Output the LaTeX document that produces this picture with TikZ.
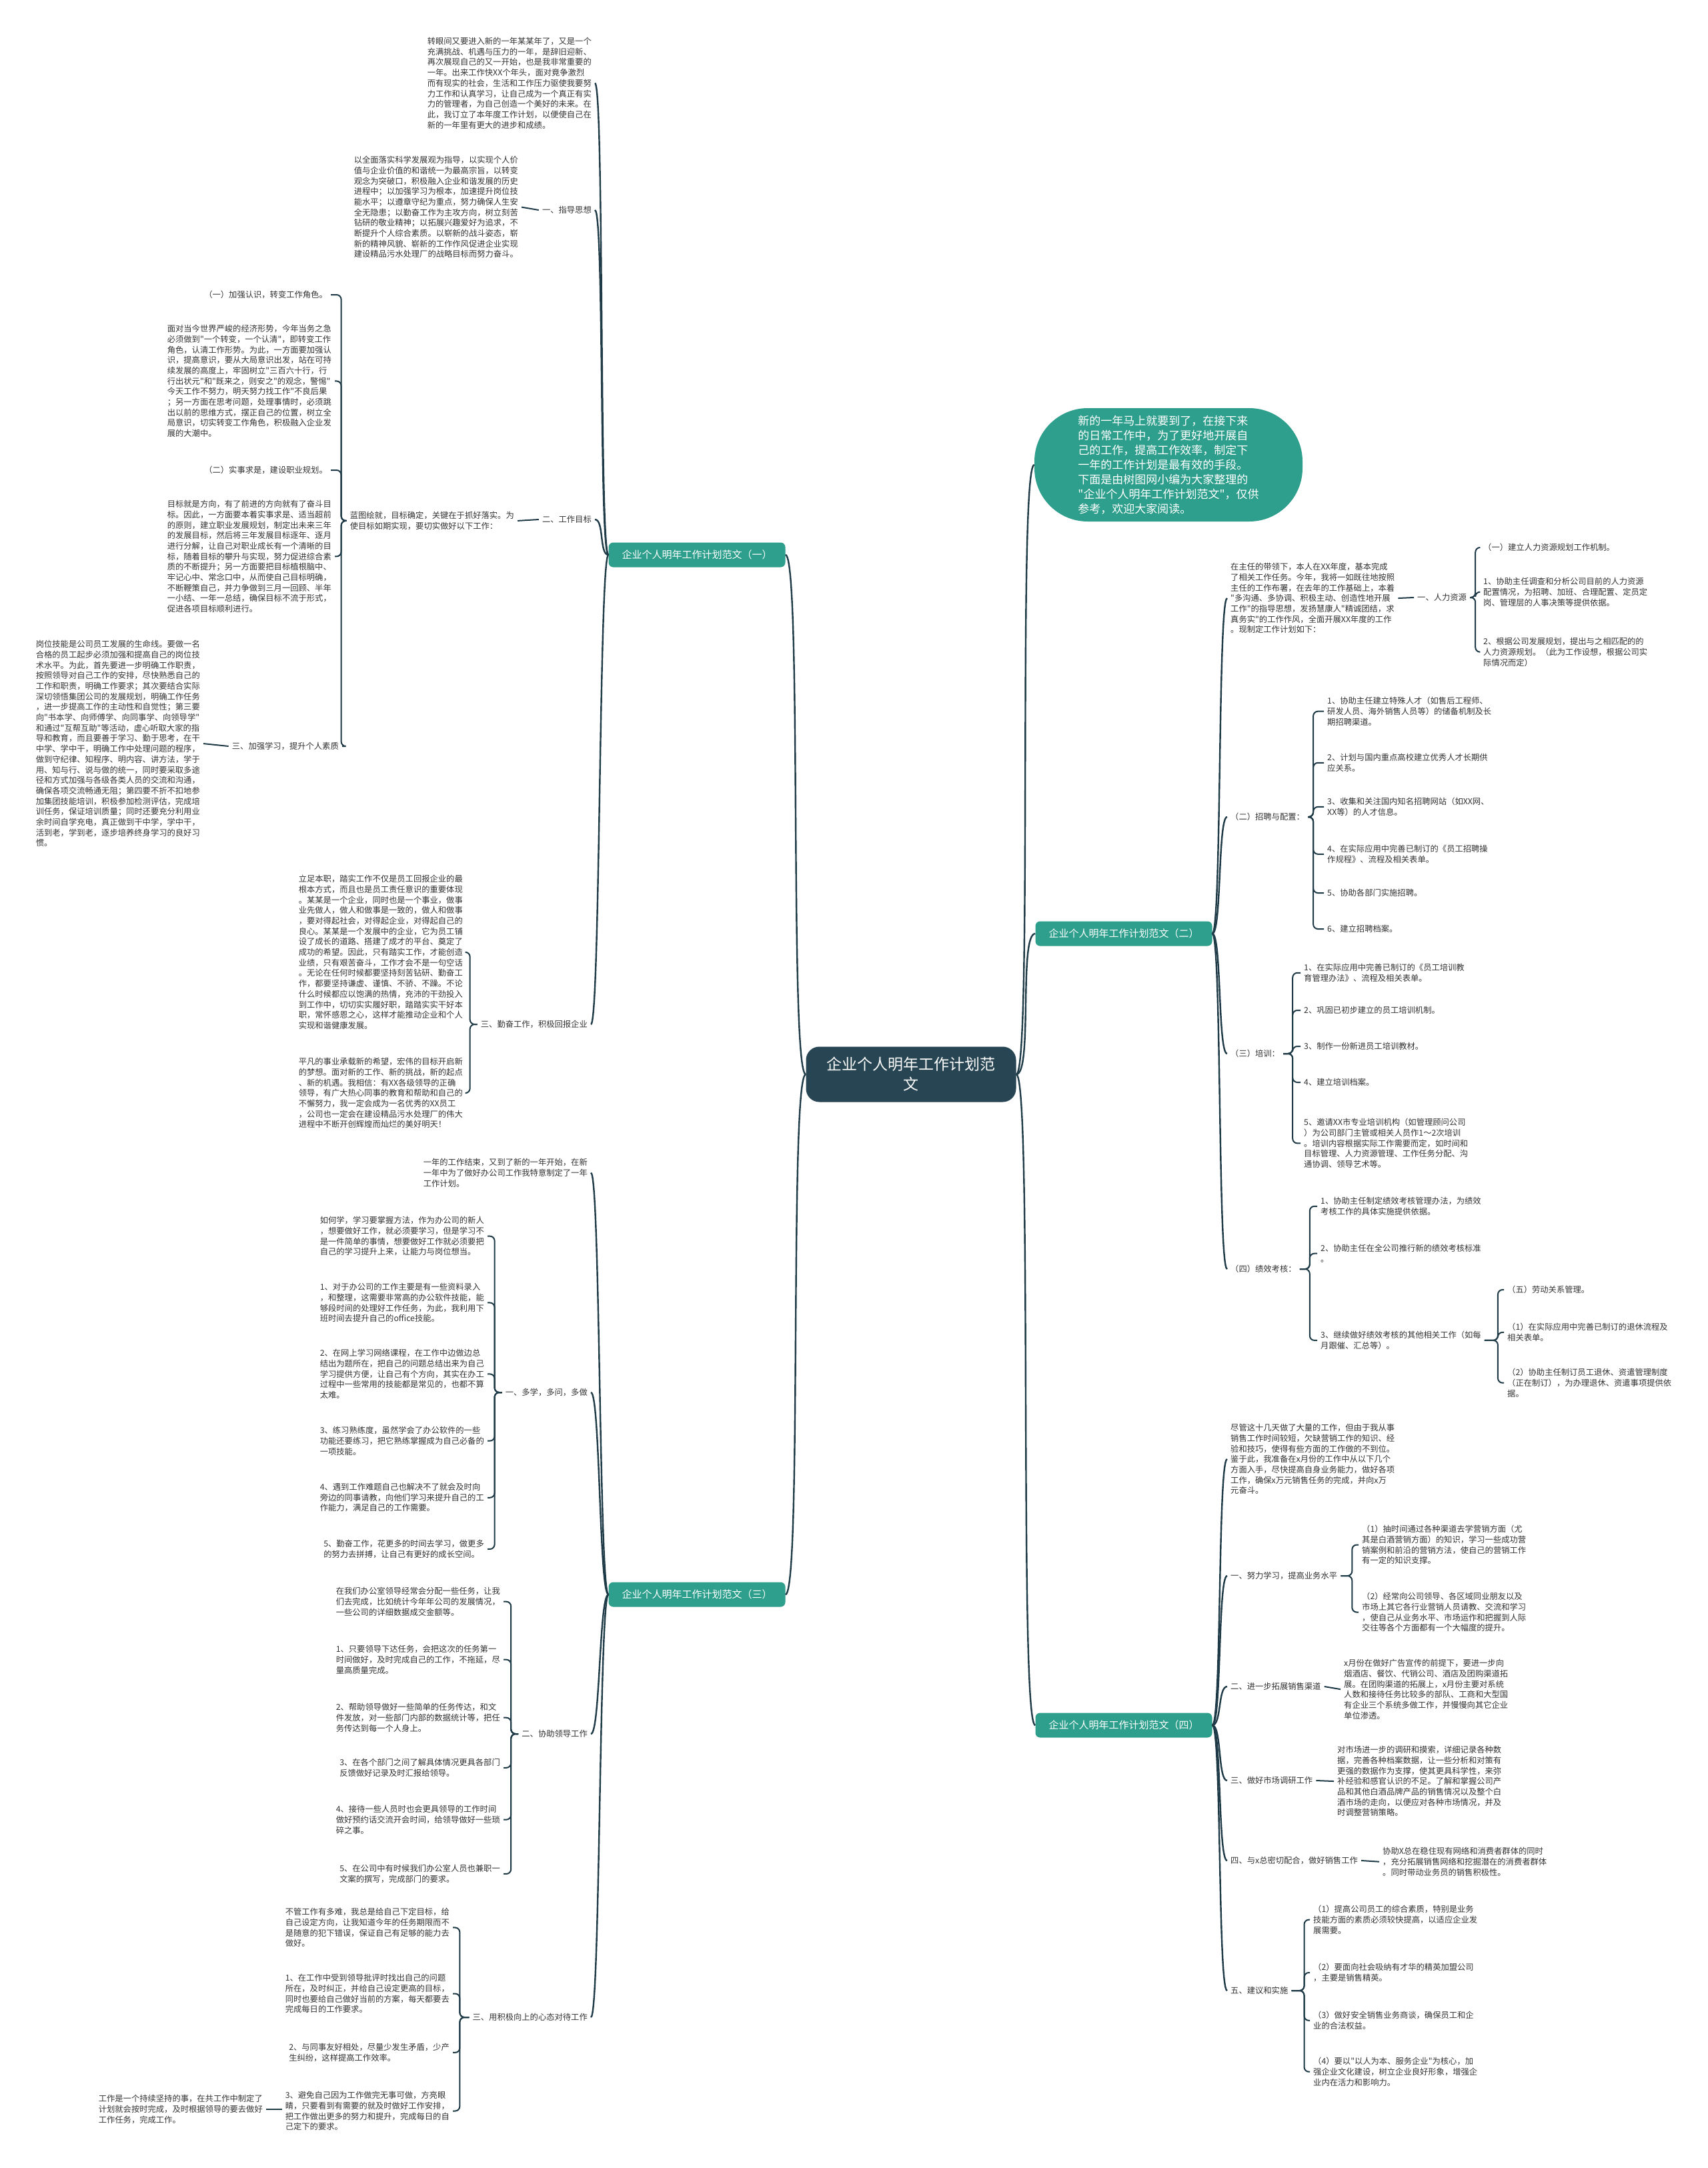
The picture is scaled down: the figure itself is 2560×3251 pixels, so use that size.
\documentclass[tikz,border=0pt]{standalone}
\usepackage{fontspec}
\setmainfont{Noto Sans CJK SC}[Ligatures=TeXOff]
\definecolor{rootfill}{HTML}{274552}
\definecolor{tealfill}{HTML}{2E9F8C}
\definecolor{linkcol}{HTML}{1F3B47}
\definecolor{txtcol}{HTML}{333333}
\begin{document}
\begin{tikzpicture}[x=1pt,y=-1pt,
  txt/.style={font=\fontsize{12.3}{15.7}\selectfont,text=txtcol,align=left,inner xsep=5pt,inner ysep=0pt},
  branch/.style={fill=tealfill,text=white,rounded corners=7pt,minimum width=265pt,minimum height=37pt,inner sep=0pt,font=\fontsize{15}{18}\selectfont},
  rootbox/.style={fill=rootfill,text=white,rounded corners=20pt,minimum width=315pt,minimum height=83pt,align=center,font=\fontsize{23}{30}\selectfont},
  newsbox/.style={fill=tealfill,text=white,rounded corners=80pt,minimum width=402pt,minimum height=170pt,align=left,font=\fontsize{17}{22}\selectfont},
  link/.style={draw=linkcol,line width=2pt,rounded corners=7pt},
  curve/.style={draw=linkcol,line width=2.4pt}]
\fill[white] (0,0) rectangle (2560,3251);
\useasboundingbox (0,0) rectangle (2560,3251);

\node[rootbox] (root) at (1366,1611) {企业个人明年工作计划范\\文};
\node[newsbox] (news) at (1752,697) {新的一年马上就要到了，在接下来\\的日常工作中，为了更好地开展自\\己的工作，提高工作效率，制定下\\一年的工作计划是最有效的手段。\\下面是由树图网小编为大家整理的\\"企业个人明年工作计划范文"，仅供\\参考，欢迎大家阅读。};
\node[branch] (B1) at (1045,832) {企业个人明年工作计划范文（一）};
\node[branch] (B2) at (1685,1400) {企业个人明年工作计划范文（二）};
\node[branch] (B3) at (1045,2391) {企业个人明年工作计划范文（三）};
\node[branch] (B4) at (1685,2587) {企业个人明年工作计划范文（四）};

\node[txt,anchor=north east] (intro) at (892,56) {转眼间又要进入新的一年某某年了，又是一个\\充满挑战、机遇与压力的一年，是辞旧迎新、\\再次展现自己的又一开始，也是我非常重要的\\一年。出来工作快XX个年头，面对竟争激烈\\而有现实的社会，生活和工作压力驱使我要努\\力工作和认真学习，让自己成为一个真正有实\\力的管理者，为自己创造一个美好的未来。在\\此，我订立了本年度工作计划，以便使自己在\\新的一年里有更大的进步和成绩。};
\node[txt,anchor=north east] (guide) at (782,234) {以全面落实科学发展观为指导，以实现个人价\\值与企业价值的和谐统一为最高宗旨，以转变\\观念为突破口，积极融入企业和谐发展的历史\\进程中；以加强学习为根本，加速提升岗位技\\能水平；以遵章守纪为重点，努力确保人生安\\全无隐患；以勤奋工作为主攻方向，树立刻苦\\钻研的敬业精神；以拓展兴趣爱好为追求，不\\断提升个人综合素质。以崭新的战斗姿态，崭\\新的精神风貌、崭新的工作作风促进企业实现\\建设精品污水处理厂的战略目标而努力奋斗。};
\node[txt,anchor=east] (guideL) at (892,315) {一、指导思想};
\node[txt,anchor=east] (roleL) at (496,442) {（一）加强认识，转变工作角色。};
\node[txt,anchor=north east] (role) at (502,487) {面对当今世界严峻的经济形势，今年当务之急\\必须做到"一个转变，一个认清"，即转变工作\\角色，认清工作形势。为此，一方面要加强认\\识，提高意识，要从大局意识出发，站在可持\\续发展的高度上，牢固树立"三百六十行，行\\行出状元"和"既来之，则安之"的观念，警惕"\\今天工作不努力，明天努力找工作"不良后果\\；另一方面在思考问题，处理事情时，必须跳\\出以前的思维方式，摆正自己的位置，树立全\\局意识，切实转变工作角色，积极融入企业发\\展的大潮中。};
\node[txt,anchor=east] (planL) at (496,705) {（二）实事求是，建设职业规划。};
\node[txt,anchor=north east] (plan) at (502,750) {目标就是方向，有了前进的方向就有了奋斗目\\标。因此，一方面要本着实事求是、适当超前\\的原则，建立职业发展规划，制定出未来三年\\的发展目标，然后将三年发展目标逐年、逐月\\进行分解，让自己对职业成长有一个清晰的目\\标，随着目标的攀升与实现，努力促进综合素\\质的不断提升；另一方面要把目标植根脑中、\\牢记心中、常念口中，从而使自己目标明确，\\不断鞭策自己，并力争做到三月一回顾、半年\\一小结、一年一总结，确保目标不流于形式，\\促进各项目标顺利进行。};
\node[txt,anchor=north east] (blue) at (776,767) {蓝图绘就，目标确定，关键在于抓好落实。为\\使目标如期实现，要切实做好以下工作：};
\node[txt,anchor=east] (goalL) at (892,779) {二、工作目标};
\node[txt,anchor=north east] (skill) at (305,960) {岗位技能是公司员工发展的生命线。要做一名\\合格的员工起步必须加强和提高自己的岗位技\\术水平。为此，首先要进一步明确工作职责，\\按照领导对自己工作的安排，尽快熟悉自己的\\工作和职责，明确工作要求；其次要结合实际\\深切领悟集团公司的发展规划，明确工作任务\\，进一步提高工作的主动性和自觉性；第三要\\向"书本学、向师傅学、向同事学、向领导学"\\和通过"互帮互助"等活动，虚心听取大家的指\\导和教育，而且要善于学习、勤于思考，在干\\中学、学中干，明确工作中处理问题的程序，\\做到守纪律、知程序、明内容、讲方法，学于\\用、知与行、说与做的统一，同时要采取多途\\径和方式加强与各级各类人员的交流和沟通，\\确保各项交流畅通无阻；第四要不折不扣地参\\加集团技能培训，积极参加检测评估，完成培\\训任务，保证培训质量；同时还要充分利用业\\余时间自学充电，真正做到干中学，学中干，\\活到老，学到老，逐步培养终身学习的良好习\\惯。};
\node[txt,anchor=east] (studyL) at (513,1119) {三、加强学习，提升个人素质};
\node[txt,anchor=north east] (duty) at (699,1312) {立足本职，踏实工作不仅是员工回报企业的最\\根本方式，而且也是员工责任意识的重要体现\\。某某是一个企业，同时也是一个事业，做事\\业先做人，做人和做事是一致的，做人和做事\\，要对得起社会，对得起企业，对得起自己的\\良心。某某是一个发展中的企业，它为员工铺\\设了成长的道路、搭建了成才的平台、奠定了\\成功的希望。因此，只有踏实工作，才能创造\\业绩，只有艰苦奋斗，工作才会不是一句空话\\。无论在任何时候都要坚持刻苦钻研、勤奋工\\作，都要坚持谦虚、谨慎、不骄、不躁。不论\\什么时候都应以饱满的热情，充沛的干劲投入\\到工作中，切切实实履好职，踏踏实实干好本\\职，常怀感恩之心，这样才能推动企业和个人\\实现和谐健康发展。};
\node[txt,anchor=north east] (hope) at (699,1586) {平凡的事业承载新的希望，宏伟的目标开启新\\的梦想。面对新的工作、新的挑战，新的起点\\、新的机遇。我相信：有XX各级领导的正确\\领导，有广大热心同事的教育和帮助和自己的\\不懈努力，我一定会成为一名优秀的XX员工\\，公司也一定会在建设精品污水处理厂的伟大\\进程中不断开创辉煌而灿烂的美好明天！};
\node[txt,anchor=east] (workL) at (886,1536) {三、勤奋工作，积极回报企业};

\node[txt,anchor=north east] (year) at (886,1737) {一年的工作结束，又到了新的一年开始，在新\\一年中为了做好办公司工作我特意制定了一年\\工作计划。};
\node[txt,anchor=north east] (how) at (731,1824) {如何学，学习要掌握方法，作为办公司的新人\\，想要做好工作，就必须要学习，但是学习不\\是一件简单的事情，想要做好工作就必须要把\\自己的学习提升上来，让能力与岗位想当。};
\node[txt,anchor=north east] (off1) at (731,1924) {1、对于办公司的工作主要是有一些资料录入\\，和整理，这需要非常高的办公软件技能，能\\够段时间的处理好工作任务，为此，我利用下\\班时间去提升自己的office技能。};
\node[txt,anchor=north east] (off2) at (731,2023) {2、在网上学习网络课程，在工作中边做边总\\结出为题所在，把自己的问题总结出来为自己\\学习提供方便，让自己有个方向，其实在办工\\过程中一些常用的技能都是常见的，也都不算\\太难。};
\node[txt,anchor=north east] (off3) at (731,2139) {3、练习熟练度，虽然学会了办公软件的一些\\功能还要练习，把它熟练掌握成为自己必备的\\一项技能。};
\node[txt,anchor=north east] (off4) at (731,2224) {4、遇到工作难题自己也解决不了就会及时向\\旁边的同事请教，向他们学习来提升自己的工\\作能力，满足自己的工作需要。};
\node[txt,anchor=north east] (off5) at (731,2309) {5、勤奋工作，花更多的时间去学习，做更多\\的努力去拼搏，让自己有更好的成长空间。};
\node[txt,anchor=east] (moreL) at (886,2088) {一、多学，多问，多做};
\node[txt,anchor=north east] (task) at (755,2380) {在我们办公室领导经常会分配一些任务，让我\\们去完成，比如统计今年年公司的发展情况，\\一些公司的详细数据成交金额等。};
\node[txt,anchor=north east] (lead1) at (755,2467) {1、只要领导下达任务，会把这次的任务第一\\时间做好，及时完成自己的工作，不拖延，尽\\量高质量完成。};
\node[txt,anchor=north east] (lead2) at (755,2554) {2、帮助领导做好一些简单的任务传达，和文\\件发放，对一些部门内部的数据统计等，把任\\务传达到每一个人身上。};
\node[txt,anchor=north east] (lead3) at (755,2637) {3、在各个部门之间了解具体情况更具各部门\\反馈做好记录及时汇报给领导。};
\node[txt,anchor=north east] (lead4) at (755,2707) {4、接待一些人员时也会更具领导的工作时间\\做好预约话交流开会时间，给领导做好一些琐\\碎之事。};
\node[txt,anchor=north east] (lead5) at (755,2796) {5、在公司中有时候我们办公室人员也兼职一\\文案的撰写，完成部门的要求。};
\node[txt,anchor=east] (helpL) at (886,2600) {二、协助领导工作};
\node[txt,anchor=north east] (aim) at (679,2861) {不管工作有多难，我总是给自己下定目标，给\\自己设定方向，让我知道今年的任务期限而不\\是随意的犯下错误，保证自己有足够的能力去\\做好。};
\node[txt,anchor=north east] (att1) at (679,2960) {1、在工作中受到领导批评时找出自己的问题\\所在，及时纠正，并给自己设定更高的目标，\\同时也要给自己做好当前的方案，每天都要去\\完成每日的工作要求。};
\node[txt,anchor=north east] (att2) at (679,3064) {2、与同事友好相处，尽量少发生矛盾，少产\\生纠纷，这样提高工作效率。};
\node[txt,anchor=north east] (att3) at (679,3136) {3、避免自己因为工作做完无事可做，方亮眼\\睛，只要看到有需要的就及时做好工作安排，\\把工作做出更多的努力和提升，完成每日的自\\己定下的要求。};
\node[txt,anchor=east] (mindL) at (886,3025) {三、用积极向上的心态对待工作};
\node[txt,anchor=north east] (keep) at (399,3141) {工作是一个持续坚持的事，在共工作中制定了\\计划就会按时完成，及时根据领导的要去做好\\工作任务，完成工作。};

\node[txt,anchor=north west] (lead) at (1840,844) {在主任的带领下，本人在XX年度，基本完成\\了相关工作任务。今年，我将一如既往地按照\\主任的工作布署，在去年的工作基础上，本着\\"多沟通、多协调、积极主动、创造性地开展\\工作"的指导思想，发扬慧康人"精诚团结，求\\真务实"的工作作风，全面开展XX年度的工作\\。现制定工作计划如下：};
\node[txt,anchor=west] (hrL) at (2120,896) {一、人力资源};
\node[txt,anchor=west] (hr0) at (2219,821) {（一）建立人力资源规划工作机制。};
\node[txt,anchor=north west] (hr1) at (2219,866) {1、协助主任调查和分析公司目前的人力资源\\配置情况，为招聘、加班、合理配置、定员定\\岗、管理层的人事决策等提供依据。};
\node[txt,anchor=north west] (hr2) at (2219,956) {2、根据公司发展规划，提出与之相匹配的的\\人力资源规划。（此为工作设想，根据公司实\\际情况而定）};
\node[txt,anchor=west] (hireL) at (1840,1225) {（二）招聘与配置：};
\node[txt,anchor=north west] (hire1) at (1985,1045) {1、协助主任建立特殊人才（如售后工程师、\\研发人员、海外销售人员等）的储备机制及长\\期招聘渠道。};
\node[txt,anchor=north west] (hire2) at (1985,1130) {2、计划与国内重点高校建立优秀人才长期供\\应关系。};
\node[txt,anchor=north west] (hire3) at (1985,1196) {3、收集和关注国内知名招聘网站（如XX网、\\XX等）的人才信息。};
\node[txt,anchor=north west] (hire4) at (1985,1267) {4、在实际应用中完善已制订的《员工招聘操\\作规程》、流程及相关表单。};
\node[txt,anchor=west] (hire5) at (1985,1339) {5、协助各部门实施招聘。};
\node[txt,anchor=west] (hire6) at (1985,1393) {6、建立招聘档案。};
\node[txt,anchor=west] (trainL) at (1840,1580) {（三）培训：};
\node[txt,anchor=north west] (train1) at (1950,1445) {1、在实际应用中完善已制订的《员工培训教\\育管理办法》、流程及相关表单。};
\node[txt,anchor=west] (train2) at (1950,1515) {2、巩固已初步建立的员工培训机制。};
\node[txt,anchor=west] (train3) at (1950,1569) {3、制作一份新进员工培训教材。};
\node[txt,anchor=west] (train4) at (1950,1623) {4、建立培训档案。};
\node[txt,anchor=north west] (train5) at (1950,1677) {5、邀请XX市专业培训机构（如管理顾问公司\\）为公司部门主管或相关人员作1～2次培训\\。培训内容根据实际工作需要而定，如时间和\\目标管理、人力资源管理、工作任务分配、沟\\通协调、领导艺术等。};
\node[txt,anchor=west] (evalL) at (1840,1903) {（四）绩效考核：};
\node[txt,anchor=north west] (eval1) at (1975,1795) {1、协助主任制定绩效考核管理办法，为绩效\\考核工作的具体实施提供依据。};
\node[txt,anchor=north west] (eval2) at (1975,1866) {2、协助主任在全公司推行新的绩效考核标准\\。};
\node[txt,anchor=north west] (eval3) at (1975,1996) {3、继续做好绩效考核的其他相关工作（如每\\月跟催、汇总等）。};
\node[txt,anchor=west] (labor0) at (2255,1934) {（五）劳动关系管理。};
\node[txt,anchor=north west] (labor1) at (2255,1984) {（1）在实际应用中完善已制订的退休流程及\\相关表单。};
\node[txt,anchor=north west] (labor2) at (2255,2052) {（2）协助主任制订员工退休、资遣管理制度\\（正在制订），为办理退休、资遣事项提供依\\据。};

\node[txt,anchor=north west] (sales) at (1840,2135) {尽管这十几天做了大量的工作，但由于我从事\\销售工作时间较短，欠缺营销工作的知识、经\\验和技巧，使得有些方面的工作做的不到位。\\鉴于此，我准备在x月份的工作中从以下几个\\方面入手，尽快提高自身业务能力，做好各项\\工作，确保x万元销售任务的完成，并向x万\\元奋斗。};
\node[txt,anchor=west] (learnL) at (1840,2363) {一、努力学习，提高业务水平};
\node[txt,anchor=north west] (learn1) at (2037,2287) {（1）抽时间通过各种渠道去学营销方面（尤\\其是白酒营销方面）的知识，学习一些成功营\\销案例和前沿的营销方法，使自己的营销工作\\有一定的知识支撑。};
\node[txt,anchor=north west] (learn2) at (2037,2388) {（2）经常向公司领导、各区域同业朋友以及\\市场上其它各行业营销人员请教、交流和学习\\，使自己从业务水平、市场运作和把握到人际\\交往等各个方面都有一个大幅度的提升。};
\node[txt,anchor=west] (chanL) at (1840,2529) {二、进一步拓展销售渠道};
\node[txt,anchor=north west] (chan) at (2010,2488) {x月份在做好广告宣传的前提下，要进一步向\\烟酒店、餐饮、代销公司、酒店及团购渠道拓\\展。在团购渠道的拓展上，x月份主要对系统\\人数和接待任务比较多的部队、工商和大型国\\有企业三个系统多做工作，并慢慢向其它企业\\单位渗透。};
\node[txt,anchor=west] (survL) at (1840,2670) {三、做好市场调研工作};
\node[txt,anchor=north west] (surv) at (2000,2618) {对市场进一步的调研和摸索，详细记录各种数\\据，完善各种档案数据，让一些分析和对策有\\更强的数据作为支撑，使其更具科学性，来弥\\补经验和感官认识的不足。了解和掌握公司产\\品和其他白酒品牌产品的销售情况以及整个白\\酒市场的走向，以便应对各种市场情况，并及\\时调整营销策略。};
\node[txt,anchor=west] (coopL) at (1840,2790) {四、与x总密切配合，做好销售工作};
\node[txt,anchor=north west] (coop) at (2068,2770) {协助X总在稳住现有网络和消费者群体的同时\\，充分拓展销售网络和挖掘潜在的消费者群体\\。同时带动业务员的销售积极性。};
\node[txt,anchor=west] (sugL) at (1840,2985) {五、建议和实施};
\node[txt,anchor=north west] (sug1) at (1964,2857) {（1）提高公司员工的综合素质，特别是业务\\技能方面的素质必须较快提高，以适应企业发\\展需要。};
\node[txt,anchor=north west] (sug2) at (1964,2944) {（2）要面向社会吸纳有才华的精英加盟公司\\，主要是销售精英。};
\node[txt,anchor=north west] (sug3) at (1964,3016) {（3）做好安全销售业务商谈，确保员工和企\\业的合法权益。};
\node[txt,anchor=north west] (sug4) at (1964,3085) {（4）要以"以人为本、服务企业"为核心，加\\强企业文化建设，树立企业良好形象，增强企\\业内在活力和影响力。};

\foreach \c in {B1,B3}
  \draw[curve] (root.west) .. controls +(-25,0) and +(25,0) .. (\c.east);
\foreach \c in {news,B2,B4}
  \draw[curve] (root.east) .. controls +(25,0) and +(-25,0) .. (\c.west);
\foreach \c in {intro,guideL,goalL,workL}
  \draw[curve] (B1.west) .. controls +(-14,0) and +(14,0) .. (\c.east);
\foreach \c in {year,moreL,helpL,mindL}
  \draw[curve] (B3.west) .. controls +(-14,0) and +(14,0) .. (\c.east);
\foreach \c in {lead,hireL,trainL,evalL}
  \draw[curve] (B2.east) .. controls +(14,0) and +(-14,0) .. (\c.west);
\foreach \c in {sales,learnL,chanL,survL,coopL,sugL}
  \draw[curve] (B4.east) .. controls +(14,0) and +(-14,0) .. (\c.west);

\draw[link] (guide.east) -- (guideL.west);
\draw[link] (goalL.west) -- (blue.east);
\draw[link] (studyL.west) -- (skill.east);
\draw[link] (keep.east) -- (keep.east -| att3.west);
\draw[link] (lead.east) -- (hrL.west);
\draw[link] (chanL.east) -- (chan.west);
\draw[link] (survL.east) -- (surv.west);
\draw[link] (coopL.east) -- (coop.west);
\foreach \c in {roleL,role,planL,plan,studyL}
  \draw[link] (blue.west) -- ++(-8,0) |- (\c.east);
\foreach \c in {duty,hope}
  \draw[link] (workL.west) -- ++(-11,0) |- (\c.east);
\foreach \c in {how,off1,off2,off3,off4,off5}
  \draw[link] (moreL.west) -- ++(-11,0) |- (\c.east);
\foreach \c in {task,lead1,lead2,lead3,lead4,lead5}
  \draw[link] (helpL.west) -- ++(-11,0) |- (\c.east);
\foreach \c in {aim,att1,att2,att3}
  \draw[link] (mindL.west) -- ++(-14,0) |- (\c.east);
\foreach \c in {hr0,hr1,hr2}
  \draw[link] (hrL.east) -- ++(8,0) |- (\c.west);
\foreach \c in {hire1,hire2,hire3,hire4,hire5,hire6}
  \draw[link] (hireL.east) -- ++(8,0) |- (\c.west);
\foreach \c in {train1,train2,train3,train4,train5}
  \draw[link] (trainL.east) -- ++(14,0) |- (\c.west);
\foreach \c in {eval1,eval2,eval3}
  \draw[link] (evalL.east) -- ++(15,0) |- (\c.west);
\foreach \c in {labor0,labor1,labor2}
  \draw[link] (eval3.east) -- ++(20,0) |- (\c.west);
\foreach \c in {learn1,learn2}
  \draw[link] (learnL.east) -- ++(17,0) |- (\c.west);
\foreach \c in {sug1,sug2,sug3,sug4}
  \draw[link] (sugL.east) -- ++(19,0) |- (\c.west);
\end{tikzpicture}
\end{document}
